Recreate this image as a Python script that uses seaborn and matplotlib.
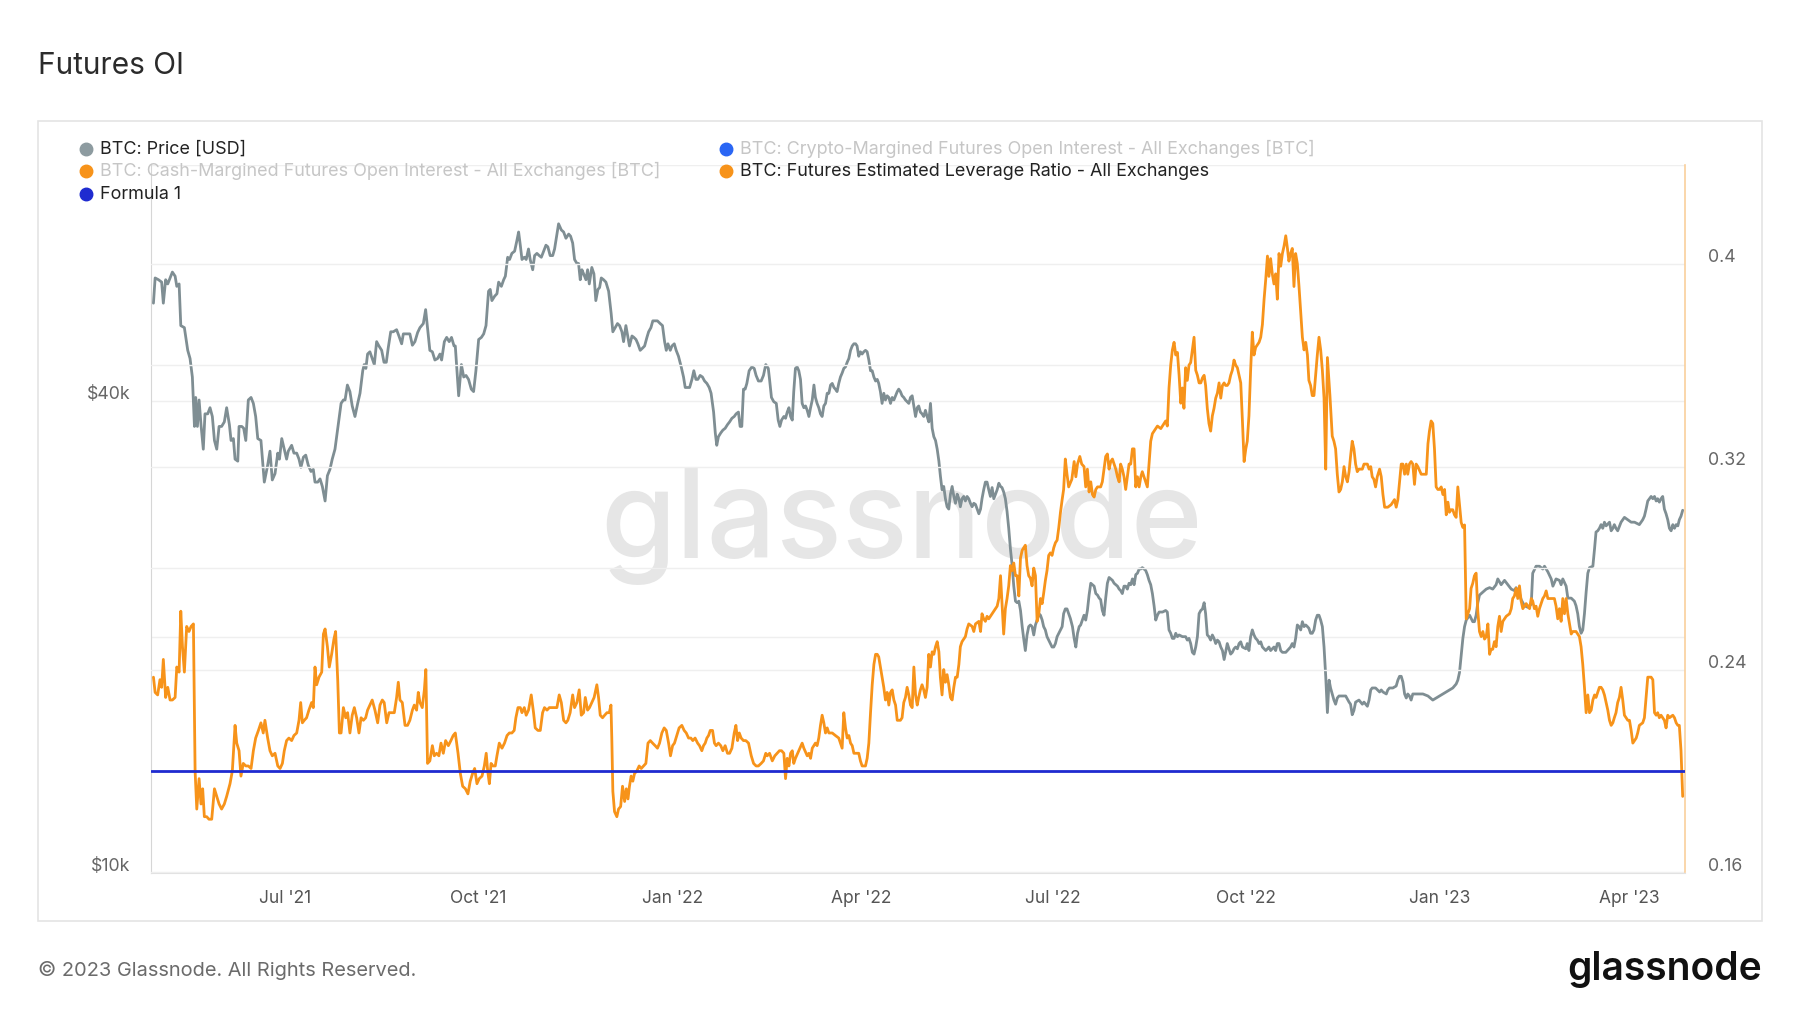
import numpy as np
import pandas as pd
import matplotlib
matplotlib.use("Agg")
import matplotlib.pyplot as plt
import matplotlib.transforms as mtrans
from matplotlib.ticker import FixedLocator, FixedFormatter, NullLocator
from matplotlib.lines import Line2D
from matplotlib.patches import Rectangle
import seaborn as sns

# ---------------- data ----------------
START = "2021-04-27"  # day 0

price_day = [
    2.4, 3.2, 4.8, 6.3, 7.1, 8.2, 9.2, 10.3, 11.4, 12.7, 13.5, 14.6, 15.4, 17.1, 18.7, 19.8, 20.9, 21.9, 22.5, 23.3,
    24.1, 25.0, 26.1, 26.9, 28.2, 29.3, 30.4, 31.4, 32.5, 33.6, 34.8, 36.1, 37.2, 38.5, 39.3, 40.4, 41.2, 42.5, 43.1, 44.4,
    45.3, 46.3, 47.5, 48.8, 49.9, 51.0, 52.0, 53.5, 55.1, 56.7, 57.8, 58.9, 60.2, 61.5, 62.3, 63.4, 64.6, 65.7, 66.5, 68.1,
    69.2, 70.5, 71.6, 72.5, 73.7, 74.8, 76.0, 77.3, 78.4, 79.2, 80.5, 81.6, 82.7, 84.0, 85.1, 86.3, 87.4, 88.7, 90.0, 91.6,
    92.7, 93.5, 94.6, 95.8, 96.9, 98.2, 99.5, 100.6, 101.9, 102.6, 103.4, 104.2, 105.3, 106.4, 107.4, 108.5, 109.6, 110.9, 112.0, 113.1,
    114.0, 115.2, 116.4, 118.0, 119.1, 120.4, 121.2, 123.2, 124.3, 125.5, 126.7, 128.0, 129.1, 130.7, 131.8, 132.7, 133.8, 135.0, 136.2, 137.5,
    138.6, 139.4, 140.7, 141.8, 143.0, 144.1, 145.3, 145.9, 146.7, 147.5, 148.8, 149.9, 151.0, 152.2, 153.5, 154.6, 155.7, 157.0, 158.3, 159.4,
    160.5, 161.7, 162.5, 163.3, 164.6, 165.7, 166.5, 167.8, 168.9, 169.7, 170.8, 171.7, 172.8, 174.1, 175.2, 176.0, 176.8, 177.6, 178.7, 179.6,
    180.7, 181.5, 182.7, 183.6, 184.7, 185.8, 186.8, 187.9, 189.0, 189.9, 191.0, 192.2, 193.1, 194.2, 195.0, 196.3, 197.4, 198.5, 199.8, 200.7,
    201.7, 202.6, 203.7, 204.5, 205.3, 206.1, 206.9, 208.0, 208.8, 209.6, 210.8, 211.8, 212.7, 213.7, 214.5, 215.3, 216.4, 217.5, 218.8, 220.0,
    220.8, 221.9, 223.0, 224.0, 225.1, 225.9, 227.0, 228.0, 228.7, 229.9, 230.8, 231.8, 232.7, 233.8, 234.9, 235.9, 237.0, 237.8, 238.9, 239.8,
    240.9, 242.0, 243.3, 244.4, 245.4, 246.2, 247.0, 248.1, 248.9, 250.0, 250.9, 252.0, 253.3, 254.4, 255.2, 256.3, 257.3, 258.4, 259.3, 260.3,
    261.2, 262.3, 263.4, 264.4, 265.5, 266.6, 267.5, 268.7, 269.5, 270.2, 271.0, 272.1, 273.1, 274.2, 275.3, 276.3, 277.4, 278.5, 279.4, 280.5,
    281.3, 282.1, 282.9, 283.7, 284.5, 285.6, 286.9, 288.0, 288.9, 290.0, 291.3, 292.4, 293.5, 294.7, 295.3, 296.2, 297.3, 298.5, 299.4, 300.2,
    301.0, 302.1, 302.9, 303.7, 304.5, 305.3, 306.1, 306.8, 307.6, 308.4, 309.2, 310.0, 310.8, 311.6, 312.4, 313.2, 314.0, 314.8, 315.6, 316.4,
    317.1, 317.9, 318.7, 319.5, 320.3, 321.1, 321.9, 322.7, 323.5, 324.3, 325.1, 325.9, 326.6, 327.4, 328.2, 329.0, 329.8, 330.6, 331.4, 332.2,
    333.0, 333.8, 334.6, 335.4, 336.2, 336.9, 337.7, 338.5, 339.3, 340.1, 340.9, 341.7, 342.5, 343.3, 344.1, 344.9, 345.7, 346.5, 347.2, 348.0,
    348.8, 349.6, 350.4, 351.2, 352.0, 352.8, 353.6, 354.4, 355.2, 356.0, 356.7, 357.5, 358.3, 359.1, 359.9, 360.7, 361.5, 362.3, 363.1, 363.9,
    364.7, 365.5, 366.2, 367.0, 367.8, 368.6, 369.4, 370.2, 371.0, 371.8, 372.6, 373.4, 374.2, 375.0, 375.8, 376.5, 377.3, 378.1, 378.9, 379.7,
    380.5, 381.3, 382.1, 382.9, 383.7, 384.5, 385.3, 386.0, 386.8, 387.6, 388.4, 389.2, 390.0, 390.8, 391.6, 392.4, 393.2, 394.0, 394.8, 395.6,
    396.3, 397.1, 397.9, 398.7, 399.5, 400.3, 401.1, 401.9, 402.7, 403.5, 404.3, 405.1, 405.8, 406.6, 407.4, 408.2, 409.0, 409.8, 410.6, 411.4,
    412.2, 413.0, 413.8, 414.6, 415.4, 416.1, 416.9, 417.7, 418.5, 419.3, 420.1, 420.9, 421.7, 422.5, 423.3, 424.1, 424.9, 425.6, 426.4, 427.2,
    428.0, 428.8, 429.6, 430.4, 431.2, 432.0, 432.8, 433.6, 434.4, 435.1, 435.9, 436.7, 437.5, 438.3, 439.3, 440.1, 440.9, 441.7, 442.5, 443.2,
    444.0, 444.8, 445.6, 446.4, 447.2, 448.0, 448.8, 449.6, 450.4, 451.2, 452.0, 452.7, 453.5, 454.3, 455.1, 455.9, 456.7, 457.5, 458.3, 459.1,
    459.9, 460.7, 461.5, 462.2, 463.0, 463.8, 464.6, 465.4, 466.2, 467.0, 467.8, 468.6, 469.4, 470.2, 471.0, 471.8, 472.5, 473.3, 474.1, 474.9,
    475.7, 476.5, 477.3, 478.1, 478.9, 479.7, 480.5, 482.1, 483.6, 484.4, 485.2, 486.0, 486.8, 487.6, 488.4, 489.2, 490.0, 491.6, 493.1, 493.9,
    494.7, 495.5, 496.3, 497.1, 497.9, 498.7, 499.5, 500.3, 501.1, 501.9, 502.6, 503.4, 504.2, 505.0, 505.8, 506.6, 507.4, 508.2, 509.0, 509.8,
    510.6, 511.4, 512.1, 512.9, 513.7, 514.5, 515.3, 516.1, 516.9, 517.7, 518.5, 519.3, 520.1, 521.7, 522.4, 523.2, 524.0, 524.8, 525.6, 526.4,
    527.2, 528.0, 528.8, 529.6, 530.4, 531.2, 532.0, 532.7, 533.5, 534.3, 535.1, 535.9, 536.7, 537.5, 538.3, 539.1, 540.7, 542.2, 543.0, 543.8,
    544.6, 545.4, 546.2, 547.0, 547.8, 548.6, 549.4, 550.2, 551.0, 551.7, 552.5, 553.3, 554.1, 554.9, 555.7, 556.5, 557.3, 558.1, 558.9, 559.7,
    560.5, 561.3, 562.0, 562.8, 563.6, 564.4, 565.2, 566.0, 567.6, 569.2, 570.8, 571.5, 572.3, 573.1, 573.9, 575.5, 577.1, 577.9, 578.7, 579.5,
    580.3, 581.1, 581.8, 583.4, 585.3, 586.1, 586.9, 588.5, 589.2, 590.0, 591.6, 593.2, 594.0, 594.8, 595.6, 596.4, 597.2, 598.0, 598.7, 599.5,
    600.3, 601.1, 602.7, 605.9, 608.3, 610.6, 613.8, 615.4, 617.0, 618.5, 620.1, 621.7, 622.5, 623.3, 624.1, 624.9, 625.7, 626.5, 628.1, 629.6,
    630.4, 631.2, 632.0, 632.8, 634.4, 636.0, 637.6, 639.1, 640.7, 641.5, 643.1, 644.7, 646.3, 647.9, 649.4, 650.2, 651.8, 652.6, 654.2, 655.8,
    657.4, 658.1, 659.7, 661.3, 662.9, 663.7, 665.3, 666.9, 667.7, 669.2, 670.8, 671.6, 672.4, 674.0, 674.8, 676.4, 677.9, 678.7, 679.5, 680.3,
    681.1, 681.9, 682.7, 683.5, 684.3, 685.1, 686.7, 687.5, 688.2, 689.0, 689.8, 690.6, 691.4, 692.2, 693.0, 694.6, 695.4, 696.2, 696.9, 697.7,
    698.5, 700.1, 701.7, 703.3, 704.9, 706.5, 708.8, 710.4, 711.2, 712.0, 712.8, 713.6, 714.4, 715.2, 716.0, 716.8, 717.5, 718.3, 719.1, 719.9,
    720.7, 721.5, 722.3, 723.1, 723.9, 724.7, 725.5, 726.3, 727.1, 727.8, 728.6, 729.4,
]

price_k = [
    53.3, 57.4, 57.1, 56.7, 53.3, 57.1, 56.4, 57.4, 58.4, 57.7, 56.0, 56.4, 49.9, 49.6, 46.4, 45.3, 42.9, 37.1, 40.4, 37.1,
    40.1, 37.3, 34.7, 38.5, 38.5, 39.2, 38.2, 35.6, 34.7, 37.1, 37.1, 37.6, 39.2, 37.3, 35.6, 35.8, 33.7, 33.5, 37.1, 37.1,
    36.9, 35.6, 40.1, 40.4, 39.7, 38.2, 35.8, 35.6, 31.5, 33.1, 34.5, 31.7, 32.3, 34.3, 33.7, 35.8, 34.7, 33.7, 34.5, 35.1,
    34.3, 34.3, 33.7, 32.9, 33.9, 34.1, 33.1, 32.5, 32.7, 31.5, 31.5, 31.8, 31.1, 29.8, 32.1, 32.7, 33.7, 34.7, 36.9, 39.7,
    40.1, 40.1, 41.9, 41.1, 39.4, 38.2, 39.7, 40.9, 43.7, 44.5, 44.0, 45.9, 46.2, 45.3, 44.5, 47.6, 47.0, 46.4, 44.8, 44.8,
    46.7, 49.0, 49.0, 49.3, 48.4, 47.3, 48.7, 48.7, 48.7, 47.1, 47.6, 48.9, 49.6, 50.2, 52.3, 49.6, 46.4, 46.2, 45.1, 45.3,
    45.9, 45.1, 47.6, 48.2, 47.6, 48.2, 47.0, 47.0, 43.7, 40.6, 44.5, 42.9, 43.1, 42.6, 41.4, 41.1, 43.7, 47.9, 48.2, 48.7,
    49.9, 55.2, 55.5, 53.7, 54.4, 54.8, 56.7, 56.0, 57.1, 57.7, 61.0, 60.6, 61.7, 62.1, 64.1, 65.7, 63.2, 60.6, 61.0, 60.6,
    62.5, 60.6, 58.8, 61.3, 61.7, 61.3, 61.0, 62.1, 63.2, 62.9, 61.3, 61.3, 62.5, 65.3, 67.3, 66.1, 65.7, 64.5, 65.3, 64.9,
    63.6, 60.6, 59.9, 59.9, 57.1, 58.8, 58.1, 57.1, 58.8, 56.4, 59.2, 58.1, 53.7, 55.5, 55.8, 57.4, 57.1, 56.7, 55.2, 51.7,
    49.0, 49.6, 50.2, 49.9, 49.0, 47.6, 49.9, 48.2, 47.0, 48.4, 48.2, 47.9, 47.3, 46.4, 46.7, 47.0, 48.2, 49.0, 49.6, 50.6,
    50.6, 50.6, 50.2, 49.9, 47.6, 46.4, 47.3, 46.4, 47.0, 47.3, 46.4, 45.6, 44.2, 42.9, 41.6, 41.6, 41.6, 42.6, 43.7, 42.6,
    42.6, 43.1, 42.9, 42.4, 42.1, 41.6, 40.9, 38.7, 36.4, 35.1, 36.0, 36.4, 36.7, 36.9, 37.3, 37.6, 38.0, 38.2, 38.5, 38.7,
    37.1, 37.1, 41.4, 41.4, 42.1, 43.7, 44.2, 44.0, 43.1, 42.4, 42.4, 43.1, 44.5, 44.0, 42.6, 40.4, 39.9, 39.7, 37.8, 37.1,
    37.8, 38.2, 38.0, 38.7, 39.2, 38.2, 37.8, 41.1, 44.0, 44.2, 43.7, 42.6, 39.7, 39.2, 39.4, 38.9, 38.2, 39.2, 40.1, 41.9,
    40.4, 39.7, 39.2, 38.5, 38.2, 39.4, 39.7, 40.9, 40.9, 41.9, 42.1, 41.6, 41.4, 41.1, 42.1, 42.9, 43.4, 44.0, 44.2, 44.8,
    45.3, 46.4, 47.0, 47.3, 47.3, 47.0, 45.6, 46.2, 45.9, 46.2, 46.4, 46.2, 45.1, 43.7, 43.7, 42.9, 42.4, 42.6, 42.1, 41.1,
    39.7, 40.9, 40.1, 40.6, 40.4, 39.7, 40.4, 40.1, 40.6, 41.1, 41.4, 41.1, 40.6, 40.4, 40.1, 39.9, 39.7, 40.4, 40.6, 39.4,
    38.2, 39.2, 39.4, 38.7, 38.5, 38.2, 38.9, 38.2, 37.6, 39.7, 36.9, 36.0, 35.6, 34.7, 33.5, 32.1, 30.8, 31.1, 30.0, 29.3,
    29.1, 30.4, 31.1, 30.2, 29.6, 30.4, 30.0, 29.3, 30.0, 30.2, 29.8, 30.2, 30.0, 29.6, 29.3, 29.6, 29.5, 29.1, 28.7, 29.1,
    30.0, 30.8, 31.5, 31.5, 30.8, 30.2, 31.0, 30.0, 30.4, 30.8, 31.4, 31.1, 31.0, 30.6, 30.0, 28.9, 27.5, 25.9, 24.7, 23.2,
    22.2, 22.1, 22.2, 21.6, 20.6, 19.9, 19.2, 20.1, 20.6, 20.7, 20.6, 20.1, 20.7, 21.0, 21.4, 21.3, 21.0, 20.6, 20.4, 20.0,
    19.8, 19.6, 19.4, 19.4, 19.6, 20.0, 20.2, 20.4, 20.6, 21.4, 21.7, 21.7, 21.4, 21.1, 20.6, 19.9, 19.4, 20.2, 20.6, 20.7,
    21.0, 21.3, 21.0, 21.6, 22.6, 23.4, 23.3, 23.2, 22.7, 22.6, 22.4, 22.3, 21.6, 21.3, 22.4, 23.4, 23.8, 23.7, 23.6, 23.4,
    23.3, 23.2, 23.0, 22.9, 22.7, 23.2, 23.2, 23.0, 23.4, 23.3, 23.7, 23.3, 24.0, 24.1, 24.4, 24.4, 24.5, 24.4, 24.3, 24.0,
    23.6, 23.3, 22.7, 21.9, 21.0, 21.3, 21.5, 21.5, 21.6, 21.5, 20.4, 20.2, 19.9, 19.9, 20.2, 20.0, 20.1, 20.0, 20.0, 19.8,
    19.9, 19.6, 19.1, 19.0, 19.4, 20.0, 21.4, 21.6, 21.7, 22.1, 21.4, 20.1, 20.0, 19.8, 20.1, 19.9, 19.6, 19.8, 19.7, 19.4,
    19.2, 18.7, 19.1, 19.6, 19.3, 19.0, 19.1, 19.3, 19.4, 19.3, 19.6, 19.7, 19.4, 19.3, 19.6, 19.2, 20.0, 20.4, 20.1, 19.9,
    19.8, 19.6, 19.7, 19.4, 19.3, 19.2, 19.3, 19.4, 19.2, 19.3, 19.4, 19.2, 19.6, 19.6, 19.2, 19.1, 19.1, 19.3, 19.4, 19.6,
    19.4, 19.9, 20.7, 20.6, 20.4, 20.9, 20.6, 20.7, 20.6, 20.5, 20.2, 20.2, 20.4, 21.0, 21.3, 21.3, 21.0, 20.6, 19.4, 17.8,
    16.0, 17.6, 17.2, 16.9, 16.6, 16.4, 16.7, 16.8, 16.8, 16.8, 16.5, 16.4, 15.9, 16.1, 16.5, 16.6, 16.4, 16.5, 16.4, 16.3,
    16.6, 17.1, 17.2, 17.2, 17.0, 17.1, 17.0, 16.9, 17.1, 17.2, 17.2, 17.3, 17.6, 17.8, 17.8, 17.5, 16.9, 16.7, 16.9, 16.8,
    16.6, 16.9, 16.9, 16.9, 16.8, 16.6, 16.8, 16.9, 17.0, 17.1, 17.2, 17.4, 17.6, 18.0, 18.9, 19.9, 20.6, 21.0, 21.3, 20.9,
    20.9, 21.3, 22.1, 22.6, 22.8, 23.0, 23.1, 23.0, 23.3, 23.7, 23.3, 23.6, 23.3, 23.0, 22.9, 23.1, 22.7, 22.3, 21.9, 21.8,
    22.0, 24.1, 24.6, 24.6, 24.4, 24.6, 24.2, 23.7, 23.2, 23.7, 23.6, 23.3, 23.7, 23.2, 22.4, 22.4, 22.2, 21.9, 21.4, 20.6,
    20.2, 20.4, 21.4, 22.8, 24.1, 24.5, 24.6, 25.9, 27.2, 27.3, 27.5, 27.8, 27.5, 28.0, 27.7, 28.0, 27.3, 27.5, 27.8, 27.5,
    27.3, 28.0, 28.4, 28.2, 28.0, 28.0, 27.8, 28.2, 28.5, 29.1, 29.8, 30.0, 30.2, 30.0, 30.2, 29.8, 30.0, 29.7, 30.0, 30.2,
    29.1, 28.7, 28.2, 27.5, 27.3, 27.8, 27.5, 27.8, 27.7, 28.2, 28.5, 29.0,
]

lev_day = [
    2.4, 3.2, 4.4, 5.5, 6.3, 7.1, 8.2, 9.2, 10.3, 11.4, 12.7, 13.5, 14.6, 15.4, 16.2, 17.1, 18.2, 19.3, 20.3, 21.4,
    22.2, 23.0, 24.1, 25.0, 25.8, 26.6, 27.7, 28.8, 30.1, 31.4, 32.5, 33.6, 34.8, 36.1, 37.2, 38.8, 39.9, 41.2, 42.0, 43.1,
    44.0, 45.1, 46.3, 47.5, 48.8, 49.9, 51.0, 52.3, 53.5, 54.6, 55.4, 56.7, 57.8, 58.9, 60.2, 61.5, 62.6, 63.7, 64.6, 65.7,
    66.8, 68.1, 69.2, 70.5, 71.6, 72.4, 73.2, 74.1, 75.2, 76.3, 77.6, 78.4, 79.2, 80.0, 81.1, 82.4, 83.2, 84.0, 85.1, 86.0,
    87.1, 88.2, 89.0, 90.0, 90.8, 91.6, 92.7, 93.8, 94.7, 95.8, 96.9, 97.9, 99.0, 100.1, 101.1, 102.2, 103.3, 104.2, 105.3, 106.4,
    107.7, 109.0, 110.1, 111.2, 112.1, 113.3, 114.4, 115.6, 116.9, 118.0, 118.8, 119.6, 120.7, 122.0, 123.2, 124.3, 125.5, 126.4, 127.5, 128.3,
    129.1, 130.2, 131.2, 131.9, 132.7, 133.8, 135.0, 135.9, 137.0, 138.1, 139.1, 140.2, 141.3, 142.6, 143.8, 144.9, 145.9, 147.2, 148.3, 149.4,
    150.7, 151.9, 153.0, 154.1, 155.1, 156.2, 157.3, 158.6, 159.7, 160.6, 161.3, 162.1, 162.9, 163.8, 164.9, 165.7, 166.8, 168.1, 169.3, 170.5,
    171.6, 172.8, 173.9, 174.7, 175.7, 176.8, 177.6, 178.7, 179.6, 180.7, 182.0, 183.1, 183.9, 185.2, 186.3, 187.4, 188.3, 189.5, 190.6, 191.8,
    192.9, 194.2, 195.3, 196.3, 197.4, 198.5, 199.4, 200.5, 201.7, 202.6, 203.7, 204.8, 205.8, 206.9, 207.7, 208.8, 209.7, 210.8, 211.9, 213.2,
    214.0, 214.8, 215.9, 216.9, 218.0, 219.1, 219.9, 220.3, 220.8, 221.6, 222.7, 223.5, 224.5, 225.4, 226.4, 227.2, 228.0, 228.7, 229.5, 230.3,
    231.1, 232.2, 233.3, 234.3, 235.4, 236.5, 237.5, 238.6, 239.7, 240.9, 242.0, 243.0, 244.1, 245.2, 246.2, 247.3, 248.2, 249.2, 250.1, 251.2,
    252.3, 253.6, 254.7, 255.7, 256.8, 257.9, 258.8, 259.9, 261.1, 262.0, 263.1, 263.9, 264.7, 265.5, 266.3, 267.1, 268.2, 269.1, 269.9, 271.0,
    272.1, 273.1, 274.2, 275.3, 276.3, 277.4, 278.5, 279.3, 280.1, 280.9, 281.8, 282.9, 284.0, 285.3, 286.6, 287.7, 288.9, 290.0, 291.3, 292.4,
    293.5, 294.2, 295.3, 296.6, 297.8, 298.9, 300.0, 301.0, 302.1, 302.9, 303.7, 304.5, 305.3, 306.1, 306.8, 307.6, 309.2, 310.8, 311.6, 313.2,
    314.0, 314.8, 315.6, 317.1, 317.9, 318.7, 319.5, 320.3, 321.1, 321.9, 322.7, 323.5, 325.1, 326.6, 328.2, 329.0, 329.8, 330.6, 331.4, 332.2,
    333.0, 333.8, 334.6, 335.4, 336.2, 336.9, 337.7, 338.5, 339.3, 340.9, 341.7, 342.5, 343.3, 344.1, 344.9, 345.7, 346.5, 347.2, 348.0, 348.8,
    349.6, 350.4, 351.2, 352.0, 352.8, 353.6, 354.4, 355.2, 356.0, 356.7, 357.5, 358.3, 359.1, 359.9, 360.7, 361.5, 362.3, 363.1, 363.9, 364.7,
    365.5, 366.2, 367.0, 367.8, 368.6, 369.4, 370.2, 371.0, 371.8, 372.6, 373.4, 374.2, 375.0, 375.8, 376.5, 377.3, 378.1, 378.9, 379.7, 380.5,
    381.3, 382.1, 382.9, 383.7, 384.5, 385.3, 386.0, 386.8, 388.4, 389.2, 390.0, 391.6, 392.4, 393.2, 394.8, 395.6, 396.3, 397.1, 397.9, 398.7,
    399.5, 401.1, 401.9, 402.7, 403.5, 404.3, 405.1, 405.8, 406.6, 407.4, 408.2, 409.0, 409.8, 410.6, 411.4, 412.2, 413.0, 413.8, 414.6, 415.4,
    416.1, 416.9, 417.7, 418.5, 419.3, 420.1, 420.9, 421.7, 422.5, 423.3, 424.1, 424.9, 425.6, 426.4, 427.2, 428.0, 428.8, 429.6, 430.4, 431.2,
    432.0, 432.8, 433.6, 434.4, 435.1, 435.9, 436.7, 437.5, 439.0, 440.1, 440.9, 441.7, 442.8, 443.7, 444.8, 445.6, 446.4, 447.2, 448.0, 448.8,
    449.6, 450.4, 451.2, 452.0, 452.7, 453.5, 454.3, 455.1, 455.9, 456.7, 457.5, 458.3, 459.1, 459.9, 460.7, 461.5, 462.2, 463.0, 463.8, 464.6,
    465.4, 466.2, 467.0, 467.8, 468.6, 469.4, 470.2, 471.0, 471.8, 472.5, 473.3, 474.1, 474.9, 475.7, 476.5, 477.3, 478.1, 479.7, 481.3, 482.8,
    483.6, 484.4, 485.2, 486.0, 486.8, 487.6, 488.4, 489.2, 490.0, 490.8, 491.6, 492.3, 493.1, 493.9, 494.7, 495.5, 496.3, 497.1, 497.9, 498.7,
    499.5, 500.3, 501.1, 501.9, 502.6, 503.4, 504.2, 505.0, 505.8, 506.6, 507.4, 508.2, 509.0, 509.8, 510.6, 511.4, 512.1, 512.9, 513.7, 514.5,
    515.3, 516.1, 516.9, 517.7, 518.5, 519.3, 520.1, 520.9, 521.7, 522.4, 523.2, 524.0, 524.8, 525.6, 526.4, 527.2, 528.0, 528.8, 529.6, 530.4,
    531.2, 532.0, 532.7, 533.5, 534.3, 535.1, 535.9, 536.7, 537.5, 538.3, 539.1, 539.9, 540.7, 541.5, 542.2, 543.0, 543.8, 544.6, 545.4, 546.2,
    547.0, 547.8, 548.6, 549.4, 550.2, 551.0, 551.7, 552.5, 553.3, 554.1, 554.9, 555.7, 556.5, 557.3, 558.1, 558.9, 559.7, 560.5, 561.7, 562.8,
    563.6, 564.4, 565.2, 566.0, 566.8, 567.6, 568.4, 569.2, 570.0, 570.8, 571.5, 572.3, 573.1, 573.9, 574.7, 575.5, 577.1, 577.9, 578.7, 579.5,
    580.3, 581.1, 581.8, 582.6, 583.4, 584.2, 585.3, 586.1, 586.9, 587.7, 589.2, 590.8, 592.4, 593.2, 594.0, 594.8, 595.6, 596.4, 597.2, 598.0,
    598.7, 599.5, 600.3, 601.1, 601.9, 602.7, 603.5, 605.1, 606.7, 607.5, 608.3, 609.0, 609.8, 610.6, 611.4, 612.2, 613.0, 613.8, 614.6, 615.4,
    616.2, 617.0, 617.8, 618.5, 619.3, 620.1, 620.9, 621.7, 622.5, 623.3, 624.1, 624.9, 625.7, 626.5, 627.3, 628.1, 628.8, 629.6, 630.4, 631.2,
    632.0, 632.8, 633.6, 634.4, 635.2, 636.0, 636.8, 637.6, 638.3, 639.1, 639.9, 640.7, 641.5, 642.3, 643.1, 643.9, 645.5, 647.1, 647.9, 648.6,
    649.4, 650.2, 651.0, 651.8, 652.6, 653.4, 655.0, 656.6, 657.4, 658.1, 658.9, 659.7, 660.5, 661.3, 662.1, 662.9, 663.7, 664.5, 665.3, 666.9,
    668.4, 669.2, 670.0, 670.8, 671.6, 672.4, 673.2, 674.0, 674.8, 675.6, 676.4, 677.2, 678.7, 680.3, 681.1, 681.9, 682.7, 683.5, 684.3, 685.1,
    685.9, 686.7, 687.5, 688.2, 689.8, 690.6, 691.4, 692.2, 693.0, 693.8, 694.6, 695.4, 696.2, 696.9, 697.7, 698.5, 699.3, 700.1, 700.9, 701.7,
    702.5, 703.3, 704.1, 704.9, 705.7, 706.5, 707.3, 708.0, 708.8, 710.4, 711.2, 712.0, 712.8, 713.6, 714.4, 715.2, 716.0, 716.8, 717.5, 718.3,
    719.1, 719.9, 720.7, 721.5, 722.3, 723.1, 724.7, 725.5, 726.3, 727.1, 727.8, 728.6, 729.4,
]

lev_ratio = [
    .237, .231, .230, .236, .233, .244, .229, .233, .228, .228, .229, .241, .239, .263, .249, .239, .257, .255, .257, .258,
    .200, .185, .197, .187, .193, .182, .182, .181, .181, .193, .190, .187, .185, .187, .190, .195, .200, .218, .211, .208,
    .198, .203, .202, .202, .201, .208, .213, .216, .219, .215, .220, .213, .208, .206, .207, .202, .201, .203, .208, .212,
    .213, .212, .214, .215, .220, .227, .219, .220, .221, .224, .227, .225, .241, .234, .237, .239, .254, .256, .249, .241,
    .246, .252, .255, .236, .215, .215, .225, .221, .223, .215, .222, .225, .221, .215, .221, .220, .221, .224, .226, .228,
    .224, .219, .226, .228, .227, .219, .223, .223, .223, .229, .235, .228, .227, .218, .218, .220, .224, .226, .224, .231,
    .227, .225, .232, .240, .203, .204, .210, .206, .207, .206, .211, .207, .212, .210, .212, .214, .215, .207, .199, .194,
    .193, .191, .196, .199, .201, .195, .197, .198, .202, .207, .200, .195, .203, .202, .202, .206, .211, .209, .211, .214,
    .215, .215, .216, .221, .225, .225, .223, .225, .222, .224, .230, .223, .217, .216, .216, .223, .225, .224, .225, .225,
    .225, .225, .230, .227, .220, .219, .220, .223, .230, .225, .227, .232, .222, .223, .229, .224, .225, .227, .229, .234,
    .229, .222, .221, .222, .223, .223, .226, .213, .192, .184, .182, .185, .186, .194, .188, .193, .189, .194, .198, .196,
    .199, .200, .202, .201, .202, .203, .211, .212, .211, .210, .209, .211, .215, .217, .216, .211, .206, .210, .211, .214,
    .217, .218, .216, .215, .213, .213, .212, .213, .211, .210, .208, .210, .211, .213, .214, .216, .216, .211, .210, .211,
    .210, .208, .210, .207, .207, .209, .215, .218, .212, .215, .213, .212, .212, .211, .206, .203, .202, .202, .203, .204,
    .207, .206, .207, .204, .206, .207, .208, .208, .207, .197, .205, .202, .207, .208, .203, .205, .208, .211, .209, .206,
    .207, .205, .209, .211, .210, .213, .218, .222, .219, .215, .217, .215, .215, .214, .213, .211, .209, .223, .217, .213,
    .214, .211, .210, .207, .207, .207, .207, .204, .202, .202, .205, .211, .223, .234, .242, .246, .246, .245, .241, .237,
    .233, .228, .231, .226, .231, .232, .228, .226, .220, .220, .220, .221, .227, .229, .233, .230, .226, .225, .241, .230,
    .226, .229, .232, .234, .232, .229, .233, .246, .241, .247, .246, .249, .251, .247, .237, .230, .240, .235, .238, .234,
    .229, .228, .233, .237, .237, .242, .249, .251, .253, .256, .258, .257, .255, .258, .259, .255, .262, .260, .259, .261,
    .260, .262, .263, .264, .265, .268, .277, .266, .254, .264, .268, .273, .281, .279, .282, .277, .277, .269, .284, .287,
    .288, .289, .281, .277, .276, .273, .280, .277, .259, .262, .268, .266, .270, .275, .279, .285, .286, .285, .288, .290,
    .291, .296, .302, .307, .311, .323, .317, .312, .315, .322, .316, .321, .324, .321, .320, .312, .319, .310, .314, .309,
    .308, .311, .312, .312, .312, .314, .319, .324, .325, .319, .322, .323, .321, .319, .316, .314, .321, .319, .316, .311,
    .316, .321, .321, .327, .327, .312, .316, .312, .316, .318, .316, .314, .312, .321, .330, .333, .334, .336, .335, .337,
    .338, .336, .351, .360, .366, .369, .364, .365, .356, .345, .351, .343, .359, .354, .360, .361, .366, .371, .358, .356,
    .353, .353, .355, .356, .352, .343, .337, .334, .340, .343, .347, .349, .353, .347, .352, .353, .352, .352, .353, .356,
    .358, .362, .360, .359, .356, .353, .338, .322, .327, .330, .340, .358, .373, .364, .367, .368, .369, .371, .376, .386,
    .394, .403, .395, .402, .396, .392, .396, .386, .404, .399, .404, .407, .411, .406, .401, .404, .406, .391, .404, .400,
    .391, .381, .371, .366, .369, .364, .354, .352, .348, .348, .356, .364, .371, .366, .358, .347, .319, .363, .348, .332,
    .330, .327, .317, .310, .311, .314, .320, .316, .314, .318, .324, .330, .327, .321, .318, .319, .319, .321, .321, .321,
    .319, .320, .316, .315, .312, .316, .319, .316, .309, .304, .304, .305, .307, .304, .307, .314, .321, .321, .317, .321,
    .317, .321, .322, .321, .313, .321, .320, .317, .317, .317, .329, .334, .338, .337, .327, .312, .311, .311, .312, .309,
    .311, .301, .306, .302, .303, .303, .301, .300, .312, .305, .298, .296, .297, .260, .262, .264, .272, .274, .277, .278,
    .263, .255, .253, .255, .252, .253, .258, .246, .248, .248, .251, .249, .257, .261, .255, .259, .261, .262, .264, .268,
    .269, .272, .268, .273, .267, .264, .266, .264, .268, .267, .264, .265, .261, .264, .266, .268, .269, .271, .268, .268,
    .268, .265, .260, .264, .259, .268, .262, .268, .262, .258, .254, .255, .255, .253, .249, .242, .233, .223, .230, .223,
    .224, .228, .230, .229, .233, .233, .232, .230, .227, .224, .220, .218, .219, .221, .223, .227, .229, .233, .228, .222,
    .221, .220, .220, .216, .211, .212, .213, .215, .218, .219, .221, .229, .237, .237, .237, .236, .223, .222, .223, .221,
    .222, .221, .220, .217, .222, .221, .222, .221, .219, .218, .218, .208, .190,
]

FORMULA_1 = 0.2  # constant level of "Formula 1"

x_tick_dates = ["2021-07-01", "2021-10-01", "2022-01-01", "2022-04-01",
                "2022-07-01", "2022-10-01", "2023-01-01", "2023-04-01"]
x_tick_labels = ["Jul '21", "Oct '21", "Jan '22", "Apr '22",
                 "Jul '22", "Oct '22", "Jan '23", "Apr '23"]
price_ticks = [10000, 20000, 40000, 80000]
price_tick_labels = ["$10k", "", "$40k", ""]
lev_ticks = [0.16, 0.20, 0.24, 0.28, 0.32, 0.36, 0.40]
lev_tick_labels = ["0.16", "", "0.24", "", "0.32", "", "0.4"]

legend_items = [
    # (label, marker colour, active)
    ("BTC: Price [USD]", "#8d9ba0", True),
    ("BTC: Cash-Margined Futures Open Interest - All Exchanges [BTC]", "#f7931a", False),
    ("Formula 1", "#1f2bd0", True),
    ("BTC: Crypto-Margined Futures Open Interest - All Exchanges [BTC]", "#2a66f4", False),
    ("BTC: Futures Estimated Leverage Ratio - All Exchanges", "#f7931a", True),
]

# ---------------- styling ----------------
GRAY = "#7f8e93"
ORANGE = "#f7931a"
BLUE = "#1f2bd0"
W, H = 1800, 1013

sns.set_style("white")
plt.rcParams["font.family"] = ["Inter", "DejaVu Sans"]

fig = plt.figure(figsize=(W / 100, H / 100), dpi=100)
fig.patch.set_facecolor("white")

# plot area in pixels
L, R, T, B = 150.5, 1685.0, 165.0, 872.5
ax = fig.add_axes([L / W, 1 - B / H, (R - L) / W, (B - T) / H])
ax2 = ax.twinx()

t0 = pd.Timestamp(START)
price_df = pd.DataFrame({"date": t0 + pd.to_timedelta(price_day, unit="D"),
                         "price": np.array(price_k) * 1000.0})
lev_df = pd.DataFrame({"date": t0 + pd.to_timedelta(lev_day, unit="D"),
                       "ratio": np.array(lev_ratio)})

# watermark (behind the lines)
ax.text(0.5006, 0.480, "glassnode", transform=fig.transFigure, ha="center", va="center",
        fontsize=88, color="#e6e6e6", fontweight="medium", zorder=0)

sns.lineplot(data=price_df, x="date", y="price", ax=ax, color=GRAY, linewidth=2.0,
             zorder=3, sort=False)
sns.lineplot(data=lev_df, x="date", y="ratio", ax=ax2, color=ORANGE, linewidth=2.0,
             zorder=3, sort=False)
ax2.axhline(FORMULA_1, color=BLUE, linewidth=2.0, zorder=4)

ax.set_yscale("log")
ax.set_ylim(10000, 80000)
ax2.set_ylim(0.16, 0.4389)
xlim = (pd.Timestamp("2021-04-28"), pd.Timestamp("2023-04-27 12:00"))
ax.set_xlim(*xlim)
ax2.set_xlim(*xlim)

for a in (ax, ax2):
    a.set_xlabel("")
    a.set_ylabel("")

# y ticks
ax.yaxis.set_major_locator(FixedLocator(price_ticks))
ax.yaxis.set_major_formatter(FixedFormatter(price_tick_labels))
ax.yaxis.set_minor_locator(NullLocator())
ax2.yaxis.set_major_locator(FixedLocator(lev_ticks))
ax2.yaxis.set_major_formatter(FixedFormatter(lev_tick_labels))
ax2.yaxis.set_minor_locator(NullLocator())

# x ticks
xt = pd.to_datetime(x_tick_dates)
ax.set_xticks(xt)
ax.set_xticklabels(x_tick_labels)
ax2.tick_params(axis="x", bottom=False, labelbottom=False, top=False)

ax.tick_params(axis="x", length=7, width=1, color="#ececec", labelsize=12.5,
               labelcolor="#555555", pad=5.5)
ax.tick_params(axis="y", length=0, labelsize=12.8, labelcolor="#666666", pad=14.2)
ax2.tick_params(axis="y", length=0, labelsize=12.8, labelcolor="#666666", pad=16.4)

# gridlines
ax.grid(axis="y", color="#efefef", linewidth=1.0)
ax.grid(axis="x", visible=False)
ax2.grid(axis="y", color="#efefef", linewidth=1.0)
ax2.grid(axis="x", visible=False)
ax.set_axisbelow(True)
ax2.set_axisbelow(True)

# spines
for s in ("top", "right"):
    ax.spines[s].set_visible(False)
ax.spines["left"].set_color("#d6d6d6")
ax.spines["bottom"].set_color("#e2e2e2")
for s in ("top", "left", "bottom"):
    ax2.spines[s].set_visible(False)
ax2.spines["right"].set_color("#f9cf9c")
ax2.spines["right"].set_linewidth(1.2)

# lift y tick labels slightly above their gridlines (as in the original)
lift = mtrans.ScaledTranslation(0, 8 / 100, fig.dpi_scale_trans)
for lab in ax.get_yticklabels() + ax2.get_yticklabels():
    lab.set_transform(lab.get_transform() + lift)

# outer frame
fig.add_artist(Rectangle((38 / W, 1 - 921 / H), (1762 - 38) / W, (921 - 121) / H,
                         transform=fig.transFigure, fill=False, edgecolor="#e4e4e4",
                         linewidth=1.2))

# title
fig.text(38 / W, 1 - 66 / H, "Futures OI", ha="left", va="center", fontsize=21.5,
         color="#2b2b2b")

# legend (two columns, glassnode style)
col_x = [86, 725.5]
row_y = [149, 171, 194]
positions = [(0, 0), (0, 1), (0, 2), (1, 0), (1, 1)]
for (label, mcol, active), (c, r) in zip(legend_items, positions):
    x, y = col_x[c], row_y[r]
    fig.add_artist(Line2D([x / W], [1 - y / H], transform=fig.transFigure, marker="o",
                          markersize=9, markerfacecolor=mcol, markeredgecolor=mcol,
                          linestyle="none"))
    fig.text((x + 14) / W, 1 - y / H, label, ha="left", va="center", fontsize=12.95,
             color="#222222" if active else "#c6c6c6")

# footer
fig.text(38 / W, 1 - 970 / H, "\u00a9 2023 Glassnode. All Rights Reserved.", ha="left",
         va="center", fontsize=14.4, color="#6b6b6b")
fig.text(1762 / W, 1 - 970 / H, "glassnode", ha="right", va="center", fontsize=28,
         fontweight="semibold", color="#111111")

fig.savefig("out.png", dpi=100, facecolor="white")
